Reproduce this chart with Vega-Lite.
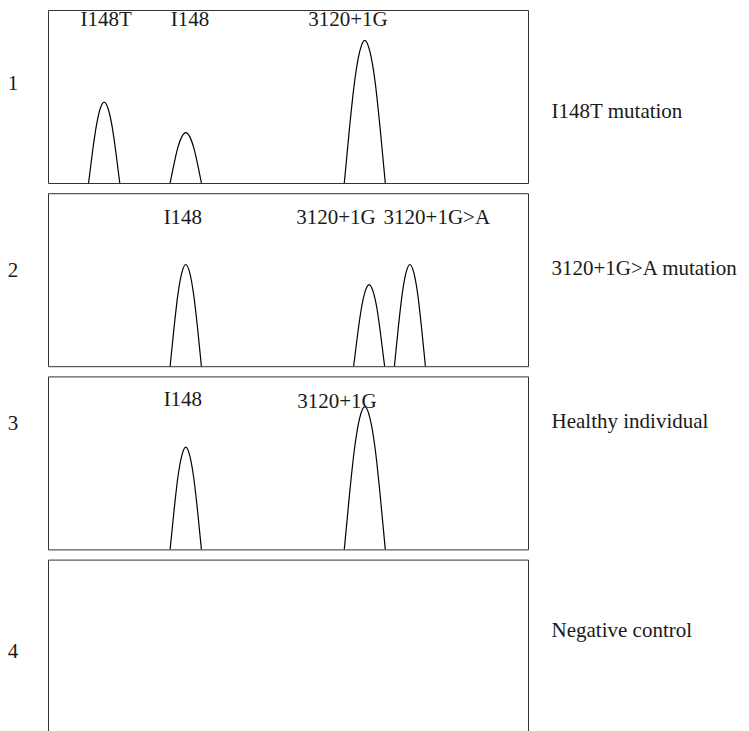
{
  "$schema": "https://vega.github.io/schema/vega-lite/v6.json",
  "background": "white",
  "padding": {"left": 7, "top": 8, "right": 3, "bottom": 0},
  "config": {"view": {"stroke": "#333333", "strokeWidth": 1}, "font": "Liberation Serif"},
  "datasets": {
    "rows": [
      {"panel": 1, "kind": "peak", "peak": "1a", "x": 8.45, "y": 0},
      {"panel": 1, "kind": "peak", "peak": "1a", "x": 9.26, "y": 17.8},
      {"panel": 1, "kind": "peak", "peak": "1a", "x": 10.08, "y": 33.2},
      {"panel": 1, "kind": "peak", "peak": "1a", "x": 10.89, "y": 43.1},
      {"panel": 1, "kind": "peak", "peak": "1a", "x": 11.7, "y": 46.8},
      {"panel": 1, "kind": "peak", "peak": "1a", "x": 12.51, "y": 43.1},
      {"panel": 1, "kind": "peak", "peak": "1a", "x": 13.33, "y": 33.2},
      {"panel": 1, "kind": "peak", "peak": "1a", "x": 14.14, "y": 17.8},
      {"panel": 1, "kind": "peak", "peak": "1a", "x": 14.95, "y": 0},
      {"panel": 1, "kind": "peak", "peak": "1b", "x": 25.44, "y": 0},
      {"panel": 1, "kind": "peak", "peak": "1b", "x": 26.26, "y": 11.1},
      {"panel": 1, "kind": "peak", "peak": "1b", "x": 27.07, "y": 20.7},
      {"panel": 1, "kind": "peak", "peak": "1b", "x": 27.89, "y": 26.8},
      {"panel": 1, "kind": "peak", "peak": "1b", "x": 28.7, "y": 29.1},
      {"panel": 1, "kind": "peak", "peak": "1b", "x": 29.52, "y": 26.8},
      {"panel": 1, "kind": "peak", "peak": "1b", "x": 30.33, "y": 20.7},
      {"panel": 1, "kind": "peak", "peak": "1b", "x": 31.15, "y": 11.1},
      {"panel": 1, "kind": "peak", "peak": "1b", "x": 31.96, "y": 0},
      {"panel": 1, "kind": "peak", "peak": "1c", "x": 61.73, "y": 0},
      {"panel": 1, "kind": "peak", "peak": "1c", "x": 62.8, "y": 31.4},
      {"panel": 1, "kind": "peak", "peak": "1c", "x": 63.87, "y": 58.6},
      {"panel": 1, "kind": "peak", "peak": "1c", "x": 64.93, "y": 75.9},
      {"panel": 1, "kind": "peak", "peak": "1c", "x": 66.0, "y": 82.5},
      {"panel": 1, "kind": "peak", "peak": "1c", "x": 67.07, "y": 75.9},
      {"panel": 1, "kind": "peak", "peak": "1c", "x": 68.14, "y": 58.6},
      {"panel": 1, "kind": "peak", "peak": "1c", "x": 69.2, "y": 31.4},
      {"panel": 1, "kind": "peak", "peak": "1c", "x": 70.27, "y": 0},
      {"panel": 2, "kind": "peak", "peak": "2a", "x": 25.44, "y": 0},
      {"panel": 2, "kind": "peak", "peak": "2a", "x": 26.26, "y": 22.3},
      {"panel": 2, "kind": "peak", "peak": "2a", "x": 27.07, "y": 41.7},
      {"panel": 2, "kind": "peak", "peak": "2a", "x": 27.89, "y": 54.1},
      {"panel": 2, "kind": "peak", "peak": "2a", "x": 28.7, "y": 58.8},
      {"panel": 2, "kind": "peak", "peak": "2a", "x": 29.52, "y": 54.1},
      {"panel": 2, "kind": "peak", "peak": "2a", "x": 30.33, "y": 41.7},
      {"panel": 2, "kind": "peak", "peak": "2a", "x": 31.15, "y": 22.3},
      {"panel": 2, "kind": "peak", "peak": "2a", "x": 31.96, "y": 0},
      {"panel": 2, "kind": "peak", "peak": "2b", "x": 63.67, "y": 0},
      {"panel": 2, "kind": "peak", "peak": "2b", "x": 64.48, "y": 17.9},
      {"panel": 2, "kind": "peak", "peak": "2b", "x": 65.29, "y": 33.5},
      {"panel": 2, "kind": "peak", "peak": "2b", "x": 66.09, "y": 43.4},
      {"panel": 2, "kind": "peak", "peak": "2b", "x": 66.9, "y": 47.2},
      {"panel": 2, "kind": "peak", "peak": "2b", "x": 67.71, "y": 43.4},
      {"panel": 2, "kind": "peak", "peak": "2b", "x": 68.52, "y": 33.5},
      {"panel": 2, "kind": "peak", "peak": "2b", "x": 69.32, "y": 17.9},
      {"panel": 2, "kind": "peak", "peak": "2b", "x": 70.13, "y": 0},
      {"panel": 2, "kind": "peak", "peak": "2c", "x": 72.17, "y": 0},
      {"panel": 2, "kind": "peak", "peak": "2c", "x": 72.98, "y": 22.3},
      {"panel": 2, "kind": "peak", "peak": "2c", "x": 73.79, "y": 41.7},
      {"panel": 2, "kind": "peak", "peak": "2c", "x": 74.59, "y": 54.1},
      {"panel": 2, "kind": "peak", "peak": "2c", "x": 75.4, "y": 58.8},
      {"panel": 2, "kind": "peak", "peak": "2c", "x": 76.21, "y": 54.1},
      {"panel": 2, "kind": "peak", "peak": "2c", "x": 77.02, "y": 41.7},
      {"panel": 2, "kind": "peak", "peak": "2c", "x": 77.82, "y": 22.3},
      {"panel": 2, "kind": "peak", "peak": "2c", "x": 78.63, "y": 0},
      {"panel": 3, "kind": "peak", "peak": "3a", "x": 25.44, "y": 0},
      {"panel": 3, "kind": "peak", "peak": "3a", "x": 26.26, "y": 22.5},
      {"panel": 3, "kind": "peak", "peak": "3a", "x": 27.07, "y": 42.0},
      {"panel": 3, "kind": "peak", "peak": "3a", "x": 27.89, "y": 54.4},
      {"panel": 3, "kind": "peak", "peak": "3a", "x": 28.7, "y": 59.1},
      {"panel": 3, "kind": "peak", "peak": "3a", "x": 29.52, "y": 54.4},
      {"panel": 3, "kind": "peak", "peak": "3a", "x": 30.33, "y": 42.0},
      {"panel": 3, "kind": "peak", "peak": "3a", "x": 31.15, "y": 22.5},
      {"panel": 3, "kind": "peak", "peak": "3a", "x": 31.96, "y": 0},
      {"panel": 3, "kind": "peak", "peak": "3b", "x": 61.73, "y": 0},
      {"panel": 3, "kind": "peak", "peak": "3b", "x": 62.8, "y": 31.4},
      {"panel": 3, "kind": "peak", "peak": "3b", "x": 63.87, "y": 58.6},
      {"panel": 3, "kind": "peak", "peak": "3b", "x": 64.93, "y": 75.9},
      {"panel": 3, "kind": "peak", "peak": "3b", "x": 66.0, "y": 82.5},
      {"panel": 3, "kind": "peak", "peak": "3b", "x": 67.07, "y": 75.9},
      {"panel": 3, "kind": "peak", "peak": "3b", "x": 68.14, "y": 58.6},
      {"panel": 3, "kind": "peak", "peak": "3b", "x": 69.2, "y": 31.4},
      {"panel": 3, "kind": "peak", "peak": "3b", "x": 70.27, "y": 0},
      {"panel": 1, "kind": "top", "x": 12.1, "y": 90.9, "label": "I148T"},
      {"panel": 1, "kind": "top", "x": 29.6, "y": 90.9, "label": "I148"},
      {"panel": 1, "kind": "top", "x": 62.5, "y": 90.9, "label": "3120+1G"},
      {"panel": 2, "kind": "top", "x": 28.1, "y": 82.1, "label": "I148"},
      {"panel": 2, "kind": "top", "x": 60.0, "y": 82.0, "label": "3120+1G"},
      {"panel": 2, "kind": "top", "x": 81.0, "y": 82.0, "label": "3120+1G>A"},
      {"panel": 3, "kind": "top", "x": 28.1, "y": 83.0, "label": "I148"},
      {"panel": 3, "kind": "top", "x": 60.2, "y": 81.5, "label": "3120+1G"},
      {"panel": 1, "kind": "num", "x": -7.3, "y": 53.5, "label": "1"},
      {"panel": 2, "kind": "num", "x": -7.3, "y": 51.6, "label": "2"},
      {"panel": 3, "kind": "num", "x": -7.3, "y": 69.0, "label": "3"},
      {"panel": 4, "kind": "num", "x": -7.3, "y": 43.3, "label": "4"},
      {"panel": 1, "kind": "desc", "x": 104.9, "y": 37.3, "label": "I148T mutation"},
      {"panel": 2, "kind": "desc", "x": 104.9, "y": 52.9, "label": "3120+1G>A mutation"},
      {"panel": 3, "kind": "desc", "x": 104.9, "y": 70.2, "label": "Healthy individual"},
      {"panel": 4, "kind": "desc", "x": 104.9, "y": 55.2, "label": "Negative control"}
    ]
  },
  "data": {"name": "rows"},
  "facet": {"row": {"field": "panel", "type": "ordinal", "header": {"labels": false, "title": null}}},
  "spacing": 6.2,
  "spec": {
    "width": 480,
    "height": 173,
    "layer": [
      {
        "transform": [{"filter": "datum.kind === 'peak'"}],
        "mark": {"type": "line", "interpolate": "monotone", "color": "black", "strokeWidth": 1.2},
        "encoding": {
          "x": {"field": "x", "type": "quantitative", "scale": {"domain": [0, 100], "nice": false, "zero": false}, "axis": null},
          "y": {"field": "y", "type": "quantitative", "scale": {"domain": [0, 100], "nice": false, "zero": false}, "axis": null},
          "detail": {"field": "peak"}
        }
      },
      {
        "transform": [{"filter": "datum.kind === 'top' || datum.kind === 'num'"}],
        "mark": {"type": "text", "font": "Liberation Serif", "fontSize": 21, "baseline": "alphabetic", "align": "center", "color": "#1a1a1a"},
        "encoding": {
          "x": {"field": "x", "type": "quantitative"},
          "y": {"field": "y", "type": "quantitative"},
          "text": {"field": "label"}
        }
      },
      {
        "transform": [{"filter": "datum.kind === 'desc'"}],
        "mark": {"type": "text", "font": "Liberation Serif", "fontSize": 21, "baseline": "alphabetic", "align": "left", "color": "#1a1a1a"},
        "encoding": {
          "x": {"field": "x", "type": "quantitative"},
          "y": {"field": "y", "type": "quantitative"},
          "text": {"field": "label"}
        }
      }
    ]
  }
}
